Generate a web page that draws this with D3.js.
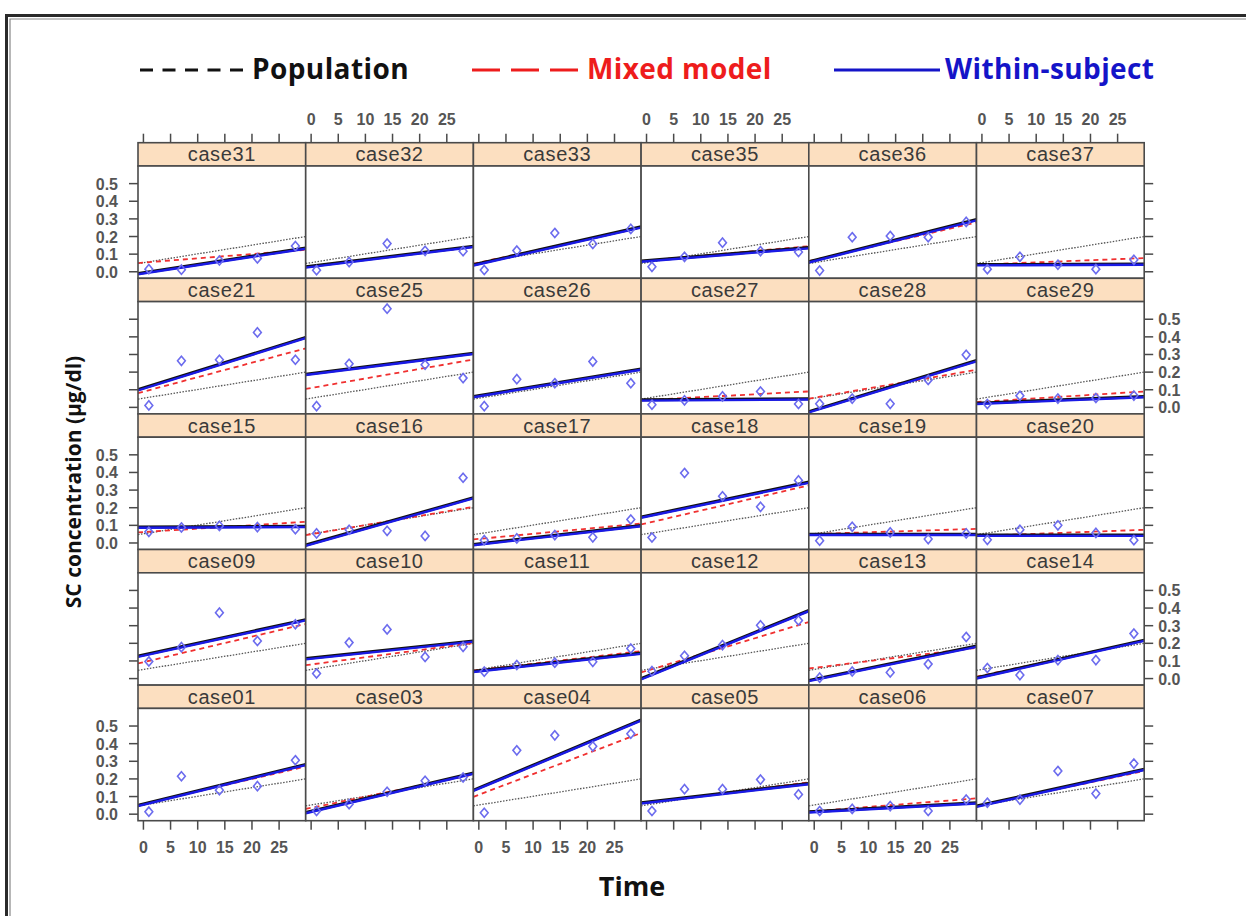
<!DOCTYPE html>
<html>
<head>
<meta charset="utf-8">
<script src="https://d3js.org/d3.v7.min.js"></script>
<title>SC concentration by case</title>
<style>
body { margin: 0; background: #fff; }
svg { display: block; }
.tick-label { font-family: "Liberation Sans", Arial, sans-serif; font-size: 16px; font-weight: bold; fill: #555; }
.strip-label { font-family: "Liberation Sans", Arial, sans-serif; font-size: 20px; letter-spacing: 0.6px; fill: #3a3a3a; }
.legend-label, .axis-title { font-family: "Open Sans", "Noto Sans", sans-serif; font-weight: bold; }
</style>
</head>
<body>
<svg width="1246" height="916"></svg>
<script>

// panels in display order, top row first
let cases = [
  "case31","case32","case33","case35","case36","case37",
  "case21","case25","case26","case27","case28","case29",
  "case15","case16","case17","case18","case19","case20",
  "case09","case10","case11","case12","case13","case14",
  "case01","case03","case04","case05","case06","case07"
];

let times = [1, 7, 14, 21, 28];

// observed SC concentration at each time, one row per case
let concentrations = [
  [0.015, 0.012, 0.064, 0.076, 0.146],
  [0.009, 0.055, 0.160, 0.119, 0.117],
  [0.010, 0.120, 0.220, 0.158, 0.243],
  [0.028, 0.085, 0.165, 0.117, 0.112],
  [0.007, 0.196, 0.203, 0.196, 0.283],
  [0.015, 0.085, 0.040, 0.015, 0.068],
  [0.011, 0.264, 0.270, 0.425, 0.270],
  [0.007, 0.247, 0.560, 0.242, 0.166],
  [0.007, 0.160, 0.137, 0.260, 0.137],
  [0.015, 0.040, 0.062, 0.090, 0.019],
  [0.020, 0.050, 0.020, 0.156, 0.298],
  [0.019, 0.066, 0.050, 0.053, 0.067],
  [0.063, 0.088, 0.097, 0.090, 0.078],
  [0.054, 0.075, 0.069, 0.040, 0.370],
  [0.016, 0.026, 0.045, 0.032, 0.133],
  [0.031, 0.397, 0.265, 0.205, 0.355],
  [0.013, 0.092, 0.060, 0.022, 0.054],
  [0.018, 0.075, 0.100, 0.057, 0.016],
  [0.097, 0.178, 0.374, 0.213, 0.308],
  [0.029, 0.204, 0.279, 0.123, 0.180],
  [0.039, 0.077, 0.090, 0.095, 0.170],
  [0.042, 0.129, 0.190, 0.302, 0.330],
  [0.005, 0.040, 0.035, 0.082, 0.236],
  [0.060, 0.020, 0.105, 0.105, 0.255],
  [0.014, 0.215, 0.136, 0.159, 0.306],
  [0.018, 0.057, 0.127, 0.189, 0.208],
  [0.008, 0.362, 0.447, 0.385, 0.456],
  [0.018, 0.142, 0.142, 0.196, 0.112],
  [0.018, 0.030, 0.046, 0.018, 0.083],
  [0.065, 0.083, 0.245, 0.117, 0.287]
];

// fitted lines (intercept at time 0, slope per unit time)
let popIntercept = 0.052;
let popSlope = 0.00495;

let mixedIntercept = [
  0.052, 0.034, 0.052, 0.063, 0.067, 0.041,
  0.089, 0.110, 0.065, 0.042, 0.055, 0.032,
  0.062, 0.050, 0.023, 0.112, 0.051, 0.041,
  0.093, 0.080, 0.049, 0.044, 0.061, 0.017,
  0.058, 0.036, 0.110, 0.066, 0.017, 0.052
];
let mixedSlope = [
  0.00243, 0.00356, 0.00663, 0.00275, 0.00712, 0.00123,
  0.00822, 0.00540, 0.00502, 0.00162, 0.00528, 0.00194,
  0.00194, 0.00518, 0.00291, 0.00718, 0.00097, 0.00113,
  0.00725, 0.00408, 0.00356, 0.00926, 0.00379, 0.00663,
  0.00709, 0.00631, 0.01172, 0.00382, 0.00243, 0.00644
];

let withinIntercept = [
  -0.005, 0.032, 0.047, 0.064, 0.065, 0.041,
  0.110, 0.192, 0.067, 0.043, -0.015, 0.025,
  0.091, -0.003, -0.005, 0.154, 0.050, 0.045,
  0.134, 0.117, 0.045, 0.0125, -0.004, 0.012,
  0.058, 0.017, 0.149, 0.069, 0.016, 0.053
];
let withinSlope = [
  0.00469, 0.00379, 0.00696, 0.00246, 0.00773, 0.00010,
  0.00961, 0.00385, 0.00505, 0.00020, 0.00939, 0.00123,
  0.00013, 0.00870, 0.00350, 0.00640, 0.00000, 0.00000,
  0.00670, 0.00324, 0.00333, 0.01252, 0.00631, 0.00689,
  0.00751, 0.00725, 0.01291, 0.00353, 0.00165, 0.00676
];

let xTicks = [0, 5, 10, 15, 20, 25];
let yTicks = [0.0, 0.1, 0.2, 0.3, 0.4, 0.5];

let legendLabels = ["Population", "Mixed model", "Within-subject"];
let legendColors = ["#111111", "#ee1c1c", "#1414c8"];

// layout
let nCols = 6, nRows = 5;
let gridLeft = 138, panelW = 167.7;
let gridTop = 142.7, rowH = 135.6, stripH = 23.3;
let tickLen = 9;

let svg = d3.select("svg");

// double frame
svg.append("path")
  .attr("d", "M6.5,916 V15.5 H1246")
  .attr("fill", "none").attr("stroke", "#2a2a2a").attr("stroke-width", 3);
svg.append("path")
  .attr("d", "M10,916 V19 H1246")
  .attr("fill", "none").attr("stroke", "#888").attr("stroke-width", 1.2);

// scales
let x = d3.scaleLinear().domain([-1, 29.9]).range([0, panelW]);
let y = d3.scaleLinear().domain([-0.037, 0.6]).range([rowH - stripH, 0]);
let panelH = rowH - stripH;

function fitLine(b, s) {
  return x.domain().map(t => [t, b + s * t]);
}
let line = d3.line().x(d => x(d[0])).y(d => y(d[1]));

let defs = svg.append("defs");
defs.append("clipPath").attr("id", "panelClip")
  .append("rect").attr("width", panelW).attr("height", panelH);

let diamond = "M0,-4.6 L3.9,0 L0,4.6 L-3.9,0 Z";

cases.forEach(function(name, i) {
  let col = i % nCols, row = Math.floor(i / nCols);
  let px = gridLeft + col * panelW;
  let py = gridTop + row * rowH;

  // strip
  svg.append("rect")
    .attr("x", px).attr("y", py).attr("width", panelW).attr("height", stripH)
    .attr("fill", "#fcdfc0").attr("stroke", "#4a4a4a").attr("stroke-width", 1.6);
  svg.append("text").attr("class", "strip-label")
    .attr("x", px + panelW / 2).attr("y", py + stripH / 2 + 7)
    .attr("text-anchor", "middle").text(name);

  let g = svg.append("g").attr("transform", "translate(" + px + "," + (py + stripH) + ")");
  g.append("rect").attr("width", panelW).attr("height", panelH).attr("fill", "#fff");

  let inner = g.append("g").attr("clip-path", "url(#panelClip)");

  inner.append("path")
    .attr("d", line(fitLine(popIntercept, popSlope)))
    .attr("fill", "none").attr("stroke", "#555").attr("stroke-width", 1.3)
    .attr("stroke-dasharray", "1.5,1.5");

  inner.append("path")
    .attr("d", line(fitLine(mixedIntercept[i], mixedSlope[i])))
    .attr("fill", "none").attr("stroke", "#f03030").attr("stroke-width", 1.8)
    .attr("stroke-dasharray", "5,4");

  inner.append("path")
    .attr("d", line(fitLine(withinIntercept[i], withinSlope[i])))
    .attr("fill", "none").attr("stroke", "#111").attr("stroke-width", 3);
  inner.append("path")
    .attr("d", line(fitLine(withinIntercept[i], withinSlope[i])))
    .attr("transform", "translate(0,0.8)")
    .attr("fill", "none").attr("stroke", "#1a1ae6").attr("stroke-width", 2.4);

  inner.selectAll(".pt")
    .data(times.map((t, k) => [t, concentrations[i][k]]))
    .enter().append("path")
    .attr("class", "pt")
    .attr("transform", d => "translate(" + x(d[0]) + "," + y(d[1]) + ")")
    .attr("d", diamond)
    .attr("fill", "none").attr("stroke", "#6c6cee").attr("stroke-width", 1.6);

  g.append("rect").attr("width", panelW).attr("height", panelH)
    .attr("fill", "none").attr("stroke", "#4a4a4a").attr("stroke-width", 1.6);

  // x axis ticks: top on first row, bottom on last row
  if (row === 0) {
    svg.append("g").attr("transform", "translate(" + px + "," + py + ")")
      .selectAll("line").data(xTicks).enter().append("line")
      .attr("x1", d => x(d)).attr("x2", d => x(d))
      .attr("y1", 0).attr("y2", -tickLen)
      .attr("stroke", "#4a4a4a").attr("stroke-width", 1.5);
    if (col % 2 === 1) {
      svg.append("g").attr("transform", "translate(" + px + "," + py + ")")
        .selectAll("text").data(xTicks).enter().append("text")
        .attr("class", "tick-label")
        .attr("x", d => x(d)).attr("y", -18)
        .attr("text-anchor", "middle").text(d => d);
    }
  }
  if (row === nRows - 1) {
    let by = py + stripH + panelH;
    svg.append("g").attr("transform", "translate(" + px + "," + by + ")")
      .selectAll("line").data(xTicks).enter().append("line")
      .attr("x1", d => x(d)).attr("x2", d => x(d))
      .attr("y1", 0).attr("y2", tickLen)
      .attr("stroke", "#4a4a4a").attr("stroke-width", 1.5);
    if (col % 2 === 0) {
      svg.append("g").attr("transform", "translate(" + px + "," + by + ")")
        .selectAll("text").data(xTicks).enter().append("text")
        .attr("class", "tick-label")
        .attr("x", d => x(d)).attr("y", 32)
        .attr("text-anchor", "middle").text(d => d);
    }
  }

  // y axis ticks: left on first column, right on last column
  if (col === 0 || col === nCols - 1) {
    let left = col === 0;
    let ax = left ? px : px + panelW;
    let ag = svg.append("g").attr("transform", "translate(" + ax + "," + (py + stripH) + ")");
    ag.selectAll("line").data(yTicks).enter().append("line")
      .attr("x1", 0).attr("x2", left ? -tickLen : tickLen)
      .attr("y1", d => y(d)).attr("y2", d => y(d))
      .attr("stroke", "#4a4a4a").attr("stroke-width", 1.5);
    let labelled = left ? (row % 2 === 0) : (row % 2 === 1);
    if (labelled) {
      ag.selectAll("text").data(yTicks).enter().append("text")
        .attr("class", "tick-label")
        .attr("x", left ? -20 : 14)
        .attr("y", d => y(d) + 6)
        .attr("text-anchor", left ? "end" : "start")
        .text(d => d.toFixed(1));
    }
  }
});

// legend
let legendItems = [
  { x1: 140, x2: 246, tx: 252, dash: "13,9.5", w: 3 },
  { x1: 472, x2: 578, tx: 587, dash: "28,11", w: 3 },
  { x1: 834, x2: 940, tx: 945, dash: null, w: 3.2 }
];
legendItems.forEach(function(d, i) {
  let ln = svg.append("line")
    .attr("x1", d.x1).attr("x2", d.x2).attr("y1", 70).attr("y2", 70)
    .attr("stroke", legendColors[i]).attr("stroke-width", d.w);
  if (d.dash) ln.attr("stroke-dasharray", d.dash);
  svg.append("text").attr("class", "legend-label")
    .attr("x", d.tx).attr("y", 79)
    .attr("font-size", 28)
    .attr("letter-spacing", "0.4px")
    .attr("fill", legendColors[i])
    .text(legendLabels[i]);
});

// axis titles
svg.append("text").attr("class", "axis-title")
  .attr("transform", "translate(81,482) rotate(-90)")
  .attr("text-anchor", "middle").attr("font-size", 21).attr("fill", "#111")
  .text("SC concentration (µg/dl)");

svg.append("text").attr("class", "axis-title")
  .attr("x", 632).attr("y", 896)
  .attr("text-anchor", "middle").attr("font-size", 27).attr("fill", "#111")
  .text("Time");

</script>
</body>
</html>
